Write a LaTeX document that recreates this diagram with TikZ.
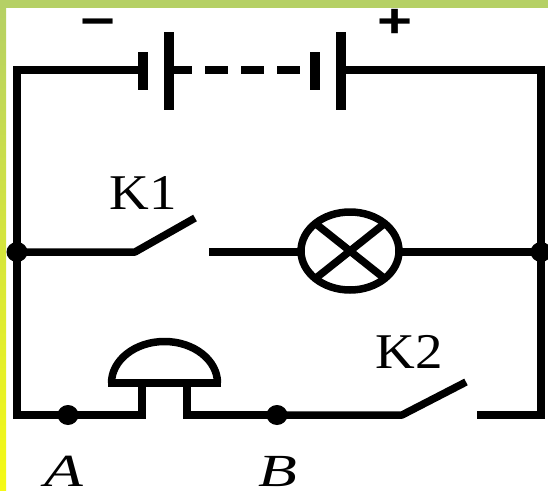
\documentclass[tikz,border=0pt]{standalone}
\usepackage{fontspec}
\setmainfont{Liberation Serif}
\newfontfamily\signfont{Liberation Sans}
\usetikzlibrary{shapes.geometric}
\definecolor{bandeHaut}{RGB}{181,208,101}
\definecolor{bandeBas}{RGB}{245,250,20}
\tikzset{
  fil/.style={line width=7.5pt},
  plaque/.style={line width=9.5pt},
  jonction/.style={ellipse,fill=black,inner sep=0pt,minimum width=21pt,minimum height=20pt},
  lampe/.style={ellipse,draw,line width=7.5pt,inner sep=0pt,outer sep=0pt,minimum width=98pt,minimum height=78pt},
  etiquette/.style={inner sep=0pt,xscale=1.1,transform shape,font=\fontsize{50}{50}\selectfont},
  nompoint/.style={inner sep=0pt,xscale=1.38,transform shape,font=\itshape\fontsize{46}{46}\selectfont},
  signe/.style={inner sep=0pt,xscale=1.25,transform shape,font=\signfont\bfseries\fontsize{48}{48}\selectfont}
}
\begin{document}
\begin{tikzpicture}[x=1pt,y=-1pt]
\useasboundingbox (0,0) rectangle (548,490);
\fill[white] (0,0) rectangle (548,490);

% bandes du fond
\shade[top color=bandeHaut,bottom color=bandeBas] (0,0) rectangle (6,490);
\fill[bandeHaut] (0,0) rectangle (548,8);

% signes
\node[signe] (moins) at (98,28) {−};
\node[signe] (plus) at (395,23.5) {+};

% points du circuit
\coordinate (hautG) at (17,70);
\coordinate (hautD) at (541,70);
\coordinate (basG) at (17,415);
\coordinate (basD) at (541,415);
\coordinate (pileA) at (143,70);
\coordinate (pileB) at (169,70);
\coordinate (pileC) at (315,70);
\coordinate (pileD) at (341,70);
\coordinate (bellG) at (142,383);
\coordinate (bellD) at (187,383);
\coordinate (k2c) at (477,415);

\node[jonction] (noeudG) at (17,252) {};
\node[jonction] (noeudD) at (541,252) {};
\node[jonction] (noeudA) at (68,415) {};
\node[jonction] (noeudB) at (277,415) {};

% piles
\draw[fil] (pileA) -- (hautG) -- (basG) -- (bellG |- basG) -- (bellG);
\draw[plaque] (143,52) -- (143,90);
\draw[plaque] (169,32) -- (169,110);
\draw[plaque] (315,52) -- (315,90);
\draw[plaque] (341,32) -- (341,110);
\draw[fil,dash pattern=on 23pt off 13pt] (pileB) -- (pileC);
\draw[fil] (pileD) -- (hautD) -- (basD) -- (k2c);

% branche de la lampe
\node[lampe] (lamp) at (350,251) {};
\draw[fil] (lamp.north west) -- (lamp.south east);
\draw[fil] (lamp.north east) -- (lamp.south west);
\coordinate (k1a) at (135,252);
\coordinate (k1b) at (195,218);
\coordinate (k1c) at (209,252);
\draw[fil,line join=round] (noeudG.center) -- (k1a) -- (k1b);
\draw[fil] (k1c) -- (lamp.west |- k1c);
\draw[fil] (lamp.east |- noeudD) -- (noeudD.center);
\node[etiquette] (k1) at (143,193) {K1};

% sonnette
\draw[fil] (108,383) -- (221,383);
\draw[fil] (111.5,383) arc[start angle=180,end angle=0,x radius=53pt,y radius=41.5pt];
\draw[fil] (bellD) -- (bellD |- basG) -- (noeudB.center);

% branche du bas
\coordinate (k2a) at (402,415);
\coordinate (k2b) at (466,382);
\draw[fil,line join=round] (noeudB.center) -- (k2a) -- (k2b);
\node[etiquette] (k2) at (409,352) {K2};
\node[nompoint] (nomA) at (64,471) {A};
\node[nompoint] (nomB) at (278,471) {B};
\end{tikzpicture}
\end{document}
